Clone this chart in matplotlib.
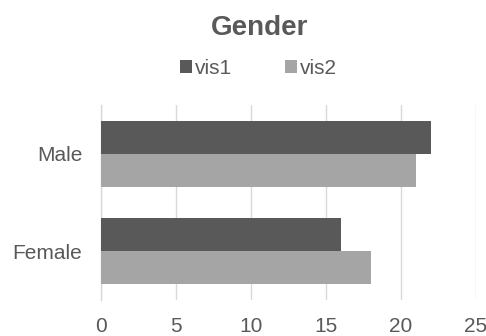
import matplotlib

matplotlib.use("Agg")
import matplotlib.pyplot as plt
import numpy as np

categories = ["Female", "Male"]
vis1 = [16, 22]
vis2 = [18, 21]
xticks = [0, 5, 10, 15, 20, 25]

plt.rcParams["font.family"] = ["Liberation Sans", "DejaVu Sans"]

fig = plt.figure(figsize=(4.86, 3.36), dpi=100)
ax = fig.add_axes([0.208, 0.107, 0.771, 0.581])

y = np.arange(len(categories))
h = 0.338
ax.barh(y + h / 2, vis1, height=h, color="#595959", label="vis1", zorder=3)
ax.barh(y - h / 2, vis2, height=h, color="#a5a5a5", label="vis2", zorder=3)

ax.set_xlim(0, 25)
ax.set_ylim(-0.5, 1.5)
ax.set_xticks(xticks)
ax.set_yticks(y)
ax.set_yticklabels(categories)
ax.tick_params(axis="both", length=0, labelsize=15, colors="#595959")
ax.tick_params(axis="x", pad=12.5)
ax.tick_params(axis="y", pad=13.5)

ax.grid(axis="x", color="#d9d9d9", linewidth=1.0, zorder=0)
for side in ["top", "right", "bottom"]:
    ax.spines[side].set_visible(False)
ax.spines["left"].set_color("#d9d9d9")
ax.spines["left"].set_linewidth(1.0)

fig.text(0.535, 0.896, "Gender", ha="center", va="baseline",
         fontsize=20, fontweight="bold", color="#595959")

handles, labels = ax.get_legend_handles_labels()
fig.legend(handles, labels, loc="center", bbox_to_anchor=(0.532, 0.797),
           ncol=2, frameon=False, fontsize=15, labelcolor="#595959",
           handlelength=0.58, handleheight=0.58, handletextpad=0.15,
           columnspacing=2.55)

fig.savefig("out.png", dpi=100)
